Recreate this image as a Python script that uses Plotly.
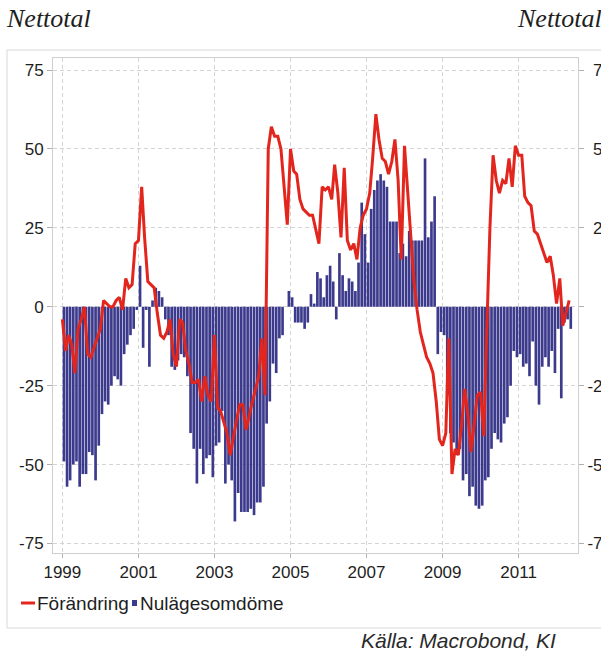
import pandas as pd
import plotly.graph_objects as go

# ---------------- data (monthly, Jan 1999 - May 2012) ----------------
start_month = "1999-01-01"

nulage = [
    -49, -57, -55, -50, -49, -57, -53, -53, -46, -47, -55, -44,   # 1999
    -34, -30, -31, -25, -22, -23, -25, -15, -12, -9, -7, -1,      # 2000
    13, -13, -1, -19, 2, 6, 5, 3, -4, -9, -19, -20,               # 2001
    -17, -15, -16, -22, -40, -45, -56, -45, -53, -48, -47, -54,   # 2002
    -44, -43, -33, -56, -50, -55, -68, -59, -65, -65, -65, -64,   # 2003
    -66, -62, -62, -57, -37, -30, -18, -21, -10, -9, 0, 5,        # 2004
    3, -5, -5, -5, -7, -5, 4, 1, 11, 9, 3, 10,                    # 2005
    13, 8, -4, 17, 10, 5, 9, 8, 5, 14, 33, 23,                    # 2006
    14, 31, 37, 40, 42, 40, 38, 27, 27, 27, 17, 20,               # 2007
    16, 24, 21, 21, 21, 21, 47, 22, 27, 35, -15, -8,              # 2008
    -9, -28, -40, -43, -47, -45, -55, -53, -60, -57, -63, -64,    # 2009
    -63, -55, -54, -45, -40, -42, -43, -37, -35, -25, -14, -16,   # 2010
    -15, -19, -18, -22, -11, -25, -31, -19, -16, -19, -14, -21,   # 2011
    -7, -29, -5, -4, -7,                                          # 2012
]

forandring = [
    -4, -14, -9, -12, -21, -7, -4, 0, -15, -16, -13, -10,         # 1999
    -7, 2, 1, 0, 0, 2, 3, -1, 9, 6, 7, 20,                        # 2000
    21, 38, 22, 8, 7, 6, -2, -9, -10, -8, -4, -15,                # 2001
    -19, -4, -5, -14, -18, -24, -24, -23, -30, -22, -28, -30,     # 2002
    -9, -32, -33, -37, -40, -47, -41, -36, -31, -31, -39, -34,    # 2003
    -30, -26, -22, -10, -28, 50, 57, 54, 54, 50, 37, 26,          # 2004
    50, 43, 42, 34, 31, 30, 29, 29, 24, 20, 38, 37,               # 2005
    38, 34, 45, 36, 22, 44, 21, 18, 20, 15, 25, 29,               # 2006
    31, 36, 47, 61, 53, 47, 46, 42, 46, 53, 40, 15,               # 2007
    51, 36, 21, 8, -1, -8, -12, -16, -18, -21, -30, -42,          # 2008
    -44, -40, -10, -53, -45, -47, -38, -26, -34, -46, -37, -28,   # 2009
    -27, -41, -8, 25, 48, 40, 36, 40, 39, 47, 38, 51,             # 2010
    48, 48, 35, 33, 32, 24, 23, 20, 17, 14, 16, 10,               # 2011
    1, 9, -6, -2, 2,                                              # 2012
]

year_ticks = [1999, 2001, 2003, 2005, 2007, 2009, 2011]
y_ticks = [-75, -50, -25, 0, 25, 50, 75]

series_names = ["Förändring", "Nulägesomdöme"]
unit_label = "Nettotal"
source_text = "Källa: Macrobond, KI"

# ---------------- styling ----------------
RED = "#e3261d"
NAVY = "#3c3a8c"
GRID = "#d4d4d4"
FRAME = "#cfcfcf"
TXT = "#1e1e1e"
W, H = 601, 651
ML, MR, MT, MB = 53, 23, 58, 98
PW, PH = W - ML - MR, H - MT - MB


def px(x):
    return (x - ML) / PW


def py(y):
    return (H - MB - y) / PH


dates = pd.date_range(start_month, periods=len(nulage), freq="MS")
line_dates = pd.date_range(start_month, periods=len(forandring), freq="MS")

fig = go.Figure()
fig.add_trace(go.Bar(
    x=dates, y=nulage, name=series_names[1],
    xperiod="M1", xperiodalignment="middle",
    marker=dict(color=NAVY, line=dict(width=0)),
    showlegend=False,
))
fig.add_trace(go.Scatter(
    x=line_dates, y=forandring, name=series_names[0], mode="lines",
    line=dict(color=RED, width=3), yaxis="y2", showlegend=False,
))

yr = [-78.0, 78.8]
tick_font = dict(family="Liberation Sans, Arial, sans-serif", size=17, color=TXT)

right_text = []
for v in y_ticks:
    if v < 0:
        right_text.append(str(v))
    elif v == 0:
        right_text.append("\u2004\u2007" + str(v))
    else:
        right_text.append("\u2004" + str(v))

fig.update_layout(
    width=W, height=H,
    margin=dict(l=ML, r=MR, t=MT, b=MB, pad=0, autoexpand=False),
    paper_bgcolor="white", plot_bgcolor="white",
    bargap=0.13,
    xaxis=dict(
        type="date", automargin=False,
        range=["1998-10-03", "2012-07-25"],
        tickvals=[pd.Timestamp(f"{y}-01-01") for y in year_ticks],
        ticktext=[str(y) for y in year_ticks],
        showgrid=True, gridcolor=GRID, griddash="4px,3px", gridwidth=1,
        ticks="outside", ticklen=4, tickcolor="#b0b0b0",
        showline=True, linecolor=FRAME, linewidth=1, mirror=True,
        tickfont=tick_font, zeroline=False,
    ),
    yaxis=dict(
        range=yr, tickvals=y_ticks, ticktext=[str(v) for v in y_ticks],
        automargin=False,
        showgrid=True, gridcolor=GRID, griddash="4px,3px", gridwidth=1,
        ticks="outside", ticklen=5, tickcolor="#b0b0b0",
        showline=True, linecolor=FRAME, linewidth=1, mirror=True,
        zeroline=False, tickfont=tick_font,
    ),
    yaxis2=dict(
        range=yr, overlaying="y", side="right", automargin=False,
        tickvals=y_ticks, ticktext=right_text,
        showgrid=False, zeroline=False,
        ticks="outside", ticklen=5, tickcolor="#b0b0b0",
        showline=False, tickfont=tick_font,
    ),
    showlegend=False,
)

# outer frame of the chart box
frame_style = dict(color="#d8d8d8", width=1)
fig.add_shape(type="line", xref="paper", yref="paper", x0=px(7), x1=px(602), y0=py(50), y1=py(50), line=frame_style)
fig.add_shape(type="line", xref="paper", yref="paper", x0=px(7), x1=px(7), y0=py(50), y1=py(628), line=frame_style)
fig.add_shape(type="line", xref="paper", yref="paper", x0=px(7), x1=px(602), y0=py(628), y1=py(628), line=frame_style)

# legend swatches + labels
fig.add_shape(type="line", xref="paper", yref="paper", x0=px(21), x1=px(35), y0=py(603), y1=py(603),
              line=dict(color=RED, width=3))
fig.add_shape(type="rect", xref="paper", yref="paper", x0=px(132), x1=px(137), y0=py(606), y1=py(600),
              line=dict(width=0), fillcolor=NAVY)
leg_font = dict(family="Liberation Sans, Arial, sans-serif", size=19, color=TXT)
fig.add_annotation(text=series_names[0], xref="paper", yref="paper", x=px(35), y=py(603),
                   xanchor="left", yanchor="middle", showarrow=False, font=leg_font)
fig.add_annotation(text=series_names[1], xref="paper", yref="paper", x=px(138), y=py(603),
                   xanchor="left", yanchor="middle", showarrow=False, font=leg_font)

# unit labels
unit_font = dict(family="Liberation Serif, Times New Roman, serif", size=26, color=TXT)
fig.add_annotation(text=f"<i>{unit_label}</i>", xref="paper", yref="paper", x=px(4), y=py(19),
                   xanchor="left", yanchor="middle", showarrow=False, font=unit_font)
fig.add_annotation(text=f"<i>{unit_label}</i>", xref="paper", yref="paper", x=px(604), y=py(19),
                   xanchor="right", yanchor="middle", showarrow=False, font=unit_font)

# source
fig.add_annotation(text=f"<i>{source_text}</i>", xref="paper", yref="paper", x=px(558), y=py(640),
                   xanchor="right", yanchor="middle", showarrow=False,
                   font=dict(family="Liberation Sans, Arial, sans-serif", size=21, color="#2a2a2a"))

fig.write_html("out.html", config={"displayModeBar": False},
               post_script="document.body.style.margin='0';document.body.style.overflow='hidden';")
